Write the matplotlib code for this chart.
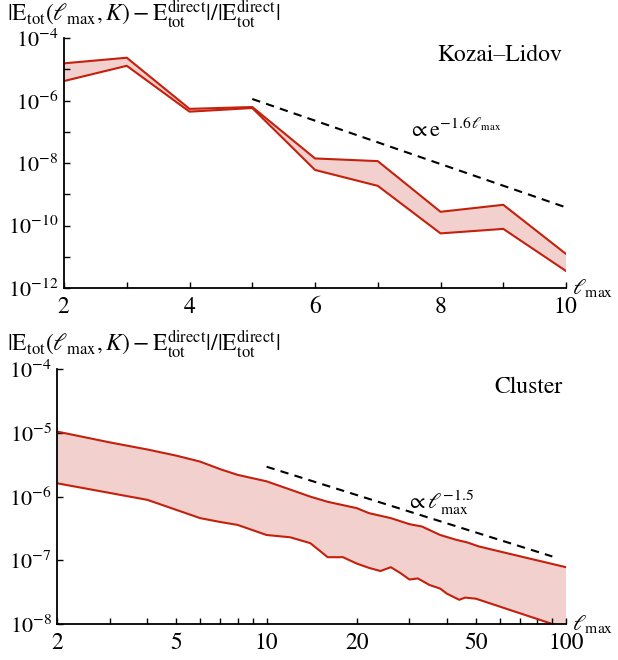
import matplotlib
matplotlib.use("Agg")
import matplotlib.pyplot as plt
from matplotlib.ticker import FixedLocator, NullFormatter, LogFormatterSciNotation, FixedFormatter

plt.rcParams["mathtext.fontset"] = "stix"
plt.rcParams["font.family"] = ["STIXGeneral", "DejaVu Sans"]
plt.rcParams["axes.formatter.use_mathtext"] = True

# ---- Kozai-Lidov panel ----
kl_lmax = [2, 3, 4, 5, 6, 7, 8, 9, 10]
kl_upper = [1.55e-5, 2.34e-5, 5.4e-7, 6.2e-7, 1.4e-8, 1.15e-8, 2.75e-10, 4.6e-10, 1.23e-11]
kl_lower = [4.2e-6, 1.29e-5, 4.4e-7, 5.75e-7, 6.0e-9, 1.86e-9, 5.6e-11, 7.8e-11, 3.5e-12]
kl_fit_x = [5, 10]
kl_fit_y = [1.12e-6, 3.8e-10]

# ---- Cluster panel ----
cl_up_lmax = [2, 3, 4, 5, 6, 7, 8, 10, 12, 14, 16, 20, 22, 26, 30, 33, 38, 43, 47, 51, 60, 100]
cl_upper = [1.05e-5, 7.1e-6, 5.5e-6, 4.4e-6, 3.55e-6, 2.7e-6, 2.2e-6, 1.74e-6, 1.29e-6, 1.0e-6,
            8.3e-7, 6.6e-7, 5.5e-7, 4.6e-7, 3.7e-7, 3.4e-7, 2.5e-7, 2.1e-7, 1.9e-7, 1.66e-7,
            1.38e-7, 7.8e-8]
cl_lo_lmax = [2, 4, 6, 7, 8, 10, 12, 14, 16, 18, 20, 22, 24, 26, 28, 30, 32, 35, 38, 40,
              44, 46, 50, 100]
cl_lower = [1.62e-6, 8.9e-7, 4.6e-7, 4.0e-7, 3.6e-7, 2.5e-7, 2.3e-7, 1.86e-7, 1.12e-7, 1.12e-7,
            8.9e-8, 7.6e-8, 6.8e-8, 7.8e-8, 6.3e-8, 5.0e-8, 5.2e-8, 4.1e-8, 3.6e-8, 3.0e-8,
            2.4e-8, 2.6e-8, 2.5e-8, 8.5e-9]
cl_fit_x = [10, 90]
cl_fit_y = [2.95e-6, 1.15e-7]

RED = "#c4200c"
PINK = "#f2d0cd"
LW = 1.5

ylabel_txt = (r"$|\mathrm{E}_{\mathrm{tot}}(\ell_{\mathrm{max}},K)-\mathrm{E}_{\mathrm{tot}}^{\mathrm{direct}}|"
              r"/|\mathrm{E}_{\mathrm{tot}}^{\mathrm{direct}}|$")

fig = plt.figure(figsize=(6.18, 6.6), dpi=100)
ax1 = fig.add_axes([0.1036, 0.5636, 0.8123, 0.3788])
ax2 = fig.add_axes([0.0927, 0.0545, 0.8232, 0.3860])


def style(ax):
    for s in ["top", "right"]:
        ax.spines[s].set_visible(False)
    for s in ["left", "bottom"]:
        ax.spines[s].set_linewidth(1.3)
    ax.tick_params(which="both", direction="in", length=4, width=1, top=False, right=False)
    ax.tick_params(axis="x", which="both", labelsize=17, pad=6)
    ax.tick_params(axis="y", which="both", labelsize=16, pad=4)


# top panel
ax1.fill(kl_lmax + kl_lmax[::-1], kl_upper + kl_lower[::-1], color=PINK, lw=0)
ax1.plot(kl_lmax, kl_upper, color=RED, lw=LW)
ax1.plot(kl_lmax, kl_lower, color=RED, lw=LW)
ax1.plot(kl_fit_x, kl_fit_y, color="black", lw=1.5, ls=(0, (4, 3)))
ax1.set_yscale("log")
ax1.set_xlim(2, 10)
ax1.set_ylim(1e-12, 1e-4)
ax1.xaxis.set_major_locator(FixedLocator([2, 4, 6, 8, 10]))
ax1.xaxis.set_minor_locator(FixedLocator([3, 5, 7, 9]))
ax1.yaxis.set_major_locator(FixedLocator([1e-12, 1e-10, 1e-8, 1e-6, 1e-4]))
ax1.yaxis.set_minor_locator(FixedLocator([1e-11, 1e-9, 1e-7, 1e-5]))
ax1.yaxis.set_major_formatter(LogFormatterSciNotation())
ax1.yaxis.set_minor_formatter(NullFormatter())
style(ax1)
ax1.text(0.993, 0.93, "Kozai\u2013Lidov", transform=ax1.transAxes, ha="right", va="center", fontsize=17)
ax1.text(0.685, 0.63, r"$\propto \mathrm{e}^{-1.6\,\ell_{\mathrm{max}}}$", transform=ax1.transAxes,
         ha="left", va="center", fontsize=16)
ax1.text(1.012, 0.0, r"$\ell_{\mathrm{max}}$", transform=ax1.transAxes, ha="left", va="center", fontsize=16)
fig.text(0.012, 0.978, ylabel_txt, ha="left", va="center", fontsize=17)

# bottom panel
ax2.fill(cl_up_lmax + cl_lo_lmax[::-1], cl_upper + cl_lower[::-1], color=PINK, lw=0)
ax2.plot(cl_up_lmax, cl_upper, color=RED, lw=LW)
ax2.plot(cl_lo_lmax, cl_lower, color=RED, lw=LW)
ax2.plot(cl_fit_x, cl_fit_y, color="black", lw=1.5, ls=(0, (4, 3)))
ax2.set_xscale("log")
ax2.set_yscale("log")
ax2.set_xlim(2, 100)
ax2.set_ylim(1e-8, 1e-4)
ax2.xaxis.set_major_locator(FixedLocator([2, 5, 10, 20, 50, 100]))
ax2.xaxis.set_major_formatter(FixedFormatter(["2", "5", "10", "20", "50", "100"]))
ax2.xaxis.set_minor_locator(FixedLocator([3, 4, 6, 7, 8, 9, 30, 40, 60, 70, 80, 90]))
ax2.xaxis.set_minor_formatter(NullFormatter())
ax2.yaxis.set_major_locator(FixedLocator([1e-8, 1e-7, 1e-6, 1e-5, 1e-4]))
ax2.yaxis.set_major_formatter(LogFormatterSciNotation())
ax2.yaxis.set_minor_locator(FixedLocator([]))
style(ax2)
ax2.text(0.993, 0.93, "Cluster", transform=ax2.transAxes, ha="right", va="center", fontsize=17)
ax2.text(0.685, 0.475, r"$\propto \ell_{\mathrm{max}}^{-1.5}$", transform=ax2.transAxes,
         ha="left", va="center", fontsize=16)
ax2.text(1.012, 0.0, r"$\ell_{\mathrm{max}}$", transform=ax2.transAxes, ha="left", va="center", fontsize=16)
fig.text(0.012, 0.478, ylabel_txt, ha="left", va="center", fontsize=17)

fig.savefig("out.png", dpi=100)
